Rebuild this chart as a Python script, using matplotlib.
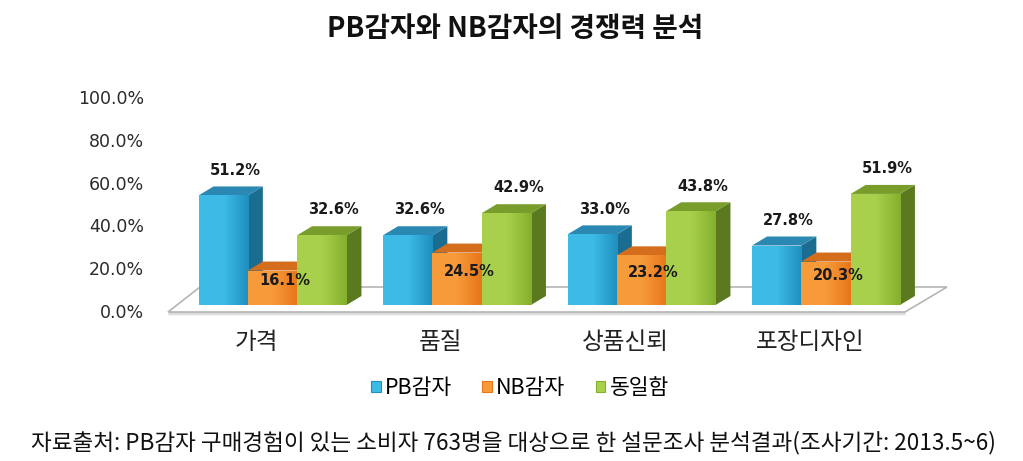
import numpy as np
import matplotlib
matplotlib.use("Agg")
import matplotlib.pyplot as plt
from matplotlib.patches import Polygon, Patch
from matplotlib.colors import LinearSegmentedColormap

plt.rcParams['font.family'] = ['Noto Sans CJK KR', 'DejaVu Sans']

# ---- data ----
title = "PB감자와 NB감자의 경쟁력 분석"
categories = ["가격", "품질", "상품신뢰", "포장디자인"]
series_names = ["PB감자", "NB감자", "동일함"]
pb_values = [51.2, 32.6, 33.0, 27.8]
nb_values = [16.1, 24.5, 23.2, 20.3]
same_values = [32.6, 42.9, 43.8, 51.9]
y_ticks = [0, 20, 40, 60, 80, 100]
y_tick_labels = ["0.0%", "20.0%", "40.0%", "60.0%", "80.0%", "100.0%"]
footnote = "자료출처: PB감자 구매경험이 있는 소비자 763명을 대상으로 한 설문조사 분석결과(조사기간: 2013.5~6)"

# ---- styles ----
front_light = ["#3dbbe6", "#f79a3a", "#a9d04c"]
front_dark = ["#1f8fbf", "#e8761a", "#84b02e"]
side_cols = ["#1a6c90", "#b0560f", "#5b7a1f"]
top_cols = ["#2a88b2", "#d46e1c", "#789d2b"]

W, H = 1023, 461
fig = plt.figure(figsize=(W / 100, H / 100), dpi=100)
AX_L, AX_R, AX_T, AX_B = 160, 960, 80, 330
ax = fig.add_axes([AX_L / W, 1 - AX_B / H, (AX_R - AX_L) / W, (AX_B - AX_T) / H])
X0, SP = 272.5, 184.5      # pixel of first group centre, group spacing
Y0, PPU = 305, 2.14        # pixel of value 0, pixels per percent
xlim = ((AX_L - X0) / SP, (AX_R - X0) / SP)
ylim = ((Y0 - AX_B) / PPU, (Y0 - AX_T) / PPU)

bw = 49.3 / SP
dx = 15 / SP
dy = 9 / PPU
tick_shift = 2.8

x = np.arange(len(categories))

# floor
fl_front, fl_back = (Y0 - 312) / PPU, (Y0 - 287) / PPU
floor = Polygon([((168 - X0) / SP, fl_front), ((905 - X0) / SP, fl_front),
                 ((947 - X0) / SP, fl_back), ((200 - X0) / SP, fl_back)],
                closed=True, facecolor="white", edgecolor="#b5b5b5", lw=1.2, zorder=1)
ax.add_patch(floor)
ax.plot([(168 - X0) / SP, (905 - X0) / SP], [fl_front - 0.6, fl_front - 0.6],
        color="#dcdcdc", lw=2.5, zorder=0.9, solid_capstyle="butt")

all_series = [pb_values, nb_values, same_values]
z = 2
for i in range(len(categories)):
    for j, vals in enumerate(all_series):
        v = vals[i]
        xc = x[i] + (j - 1) * bw
        x0, x1 = xc - bw / 2, xc + bw / 2
        side = Polygon([(x1, 0), (x1 + dx, dy), (x1 + dx, v + dy), (x1, v)],
                       closed=True, facecolor=side_cols[j], edgecolor="none", zorder=z)
        top = Polygon([(x0, v), (x1, v), (x1 + dx, v + dy), (x0 + dx, v + dy)],
                      closed=True, facecolor=top_cols[j], edgecolor="none", zorder=z)
        ax.add_patch(side)
        ax.add_patch(top)
        bars = ax.bar([xc], [v], width=bw, color=front_dark[j], zorder=z + 0.1, linewidth=0)
        cmap = LinearSegmentedColormap.from_list("g", [front_light[j], front_light[j], front_dark[j]])
        grad = np.linspace(0, 1, 64).reshape(1, -1)
        im = ax.imshow(grad, extent=[x0, x1, 0, v], aspect="auto", cmap=cmap,
                       zorder=z + 0.2, interpolation="bilinear")
        im.set_clip_path(bars.patches[0])
        z += 1

# data labels
for j, vals in enumerate(all_series):
    for i, v in enumerate(vals):
        xc = x[i] + (j - 1) * bw + 0.065
        yl = v / 2 + 3.5 if j == 1 else v + 11.8
        ax.text(xc, yl, f"{v:.1f}%", ha="center", va="center", fontsize=10.5,
                fontweight="bold", family="DejaVu Sans", color="#1a1a1a", zorder=50)

ax.set_xlim(*xlim)
ax.set_ylim(*ylim)
ax.set_yticks([t - tick_shift for t in y_ticks])
ax.set_yticklabels(y_tick_labels, family="DejaVu Sans", fontsize=12.5, color="#2a2a2a")
ax.set_xticks(x - 16 / SP)
ax.set_xticklabels(categories, fontsize=17, color="#222222")
ax.tick_params(axis="y", length=0, pad=11.5)
ax.tick_params(axis="x", length=0, pad=0.5)
for s in ax.spines.values():
    s.set_visible(False)
ax.patch.set_alpha(0)

fig.text(515 / W, 1 - 29 / H, title, ha="center", va="center", fontsize=20,
         fontweight="bold", color="#111111")

handles = [Patch(facecolor=front_light[k], edgecolor=front_dark[k], lw=0.8) for k in range(3)]
fig.legend(handles, series_names, loc="center", bbox_to_anchor=(520 / W, 1 - 388 / H),
           ncol=3, frameon=False, fontsize=15.5, handlelength=0.45, handleheight=0.45,
           handletextpad=0.2, columnspacing=1.4)

fig.text(31 / W, 1 - 443 / H, footnote, ha="left", va="center", fontsize=16.25, color="#111111")

fig.savefig("out.png", dpi=100)
